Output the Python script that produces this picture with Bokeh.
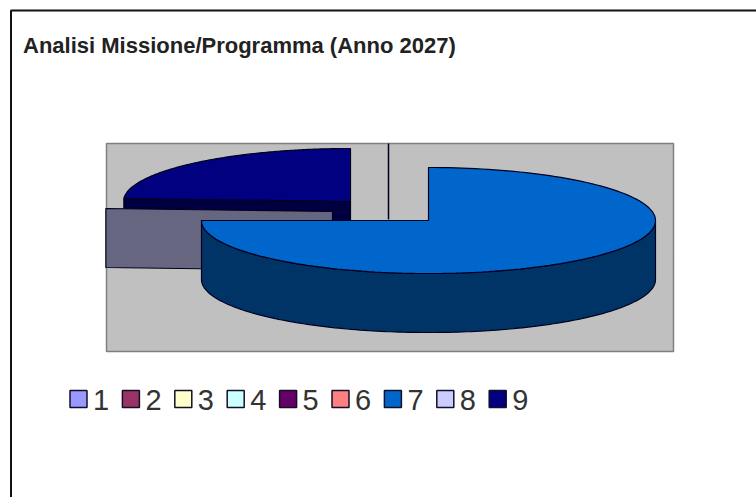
import numpy as np
from bokeh.plotting import figure
from bokeh.models import Range1d
from bokeh.core.properties import value
from bokeh.embed import file_html
from bokeh.resources import INLINE

title = "Analisi Missione/Programma (Anno 2027)"
categories = ["1", "2", "3", "4", "5", "6", "7", "8", "9"]
shares = [0, 0, 0, 0, 0, 0, 75.0, 0.9, 24.1]
top_colors = ["#9999FF", "#993366", "#FFFFCC", "#CCFFFF", "#660066", "#FF8080", "#0066CC", "#CCCCFF", "#000080"]
wall_colors = ["#4C4C80", "#4C1933", "#808066", "#668080", "#330033", "#804040", "#003366", "#666680", "#000040"]

W, H = 756, 497
RX, RY, DEPTH = 227, 53, 59
centers = {6: (428, 220), 7: (332, 211), 8: (350, 201)}
ZERO_CENTER = (388, 219)
PLOT = (106, 143, 673, 351)
EDGE = "#00001E"

p = figure(width=W, height=H, x_range=Range1d(0, W), y_range=Range1d(H, 0),
           output_backend="svg", toolbar_location=None, min_border=0,
           background_fill_color="white", border_fill_color="white")
p.axis.visible = False
p.grid.visible = False
p.outline_line_color = None

# chart frame
p.line([10.5, 10.5], [10, H], line_color="#111111", line_width=2)
p.line([10, W], [10, 10], line_color="#111111", line_width=2)

# plot area
x0, y0, x1, y1 = PLOT
p.patch([x0, x1, x1, x0], [y0, y0, y1, y1], fill_color="#C0C0C0",
        line_color="#808080", line_width=1.5)

# zero-valued slices collapse to a single radius
p.line([ZERO_CENTER[0], ZERO_CENTER[0]], [y0, ZERO_CENTER[1]], line_color=EDGE, line_width=1.5)

fractions = np.array(shares, dtype=float) / sum(shares)
ends = np.cumsum(fractions) * 2 * np.pi
starts = ends - fractions * 2 * np.pi


def rim(cx, cy, a, b, dy=0):
    t = np.linspace(a, b, 160)
    return cx + RX * np.sin(t), cy - RY * np.cos(t) + dy


for i in [8, 7, 6]:
    cx, cy = centers[i]
    a, b = starts[i], ends[i]
    # cut face that looks towards the viewer
    for ang in (a, b):
        if 3 * np.pi / 2 + 1e-6 < ang and np.sin(ang) < -0.5:
            ex, ey = rim(cx, cy, ang, ang)
            p.patch([cx, ex[0], ex[0], cx], [cy, ey[0], ey[0] + DEPTH, cy + DEPTH],
                    fill_color=wall_colors[i], line_color=EDGE, line_width=1.2)
    # outer wall on the front half
    wa, wb = max(a, np.pi / 2), min(b, 3 * np.pi / 2)
    if wb > wa + 1e-6:
        tx, ty = rim(cx, cy, wa, wb)
        bx, by = rim(cx, cy, wb, wa, DEPTH)
        p.patch(np.r_[tx, bx], np.r_[ty, by], fill_color=wall_colors[i], line_color=EDGE, line_width=1.2)
    # top face (a sliver shows only as its outline)
    tx, ty = rim(cx, cy, a, b)
    p.patch(np.r_[cx, tx], np.r_[cy, ty], fill_color=top_colors[i],
            fill_alpha=0 if fractions[i] < 0.02 else 1, line_color=EDGE,
            line_alpha=0 if fractions[i] < 0.02 else 1, line_width=1.2)

# title
p.text([22.5], [44.5], text=[title], text_font=value("Liberation Sans"), text_font_style="bold",
       text_font_size="22px", text_color="#222222", text_baseline="alphabetic")

# legend
pitch = 52.4
lx = [78 + pitch * i for i in range(len(categories))]
p.scatter(lx, [398.5] * len(categories), marker="square", size=17, fill_color=top_colors,
          line_color="#101028", line_width=1.5)
p.text([v + 14.5 for v in lx], [399] * len(categories), text=categories,
       text_font=value("Liberation Sans"), text_font_size="29px", text_color="#333333",
       text_baseline="alphabetic")

open("out.html", "w").write(file_html(p, INLINE))
